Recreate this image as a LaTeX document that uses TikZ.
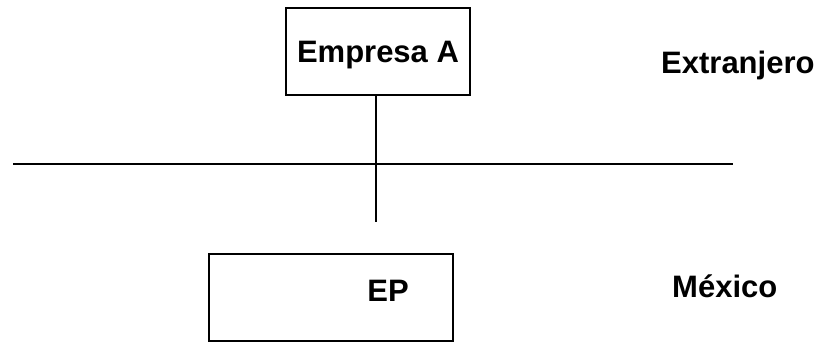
\documentclass[tikz,border=0pt]{standalone}
\usepackage{fontspec}
\setmainfont{Liberation Sans}
\usetikzlibrary{positioning}

\begin{document}
\begin{tikzpicture}[
    x=1pt, y=-1pt,
    caja/.style={draw, line width=1.6pt, inner sep=0pt, text depth=0pt, text height=22.2pt},
    txt/.style={font=\fontsize{31}{36}\selectfont\bfseries, inner sep=0pt},
    linea/.style={line width=1.6pt}
]
\useasboundingbox (0,0) rectangle (821,341);

\node[caja, txt, minimum width=184pt, minimum height=87pt] (empresa) at (378,51.5) {Empresa A};
\node[caja, minimum width=244pt, minimum height=87pt] (ep) at (331,297.5) {};
\node[txt, text depth=0pt, text height=22.2pt] (eptxt) at (388,290.5) {EP};

\node[txt, anchor=base west] (ext) at (661,73) {Extranjero};
\node[txt, anchor=base west] (mex) at (672,297) {México};

% frontera y enlace
\coordinate (fronI) at (13,164);
\coordinate (fronD) at (733,164);
\coordinate (enlace) at (376,222);
\draw[linea] (fronI) -- (fronD);
\draw[linea] (empresa.south -| enlace) -- (enlace);
\end{tikzpicture}
\end{document}
